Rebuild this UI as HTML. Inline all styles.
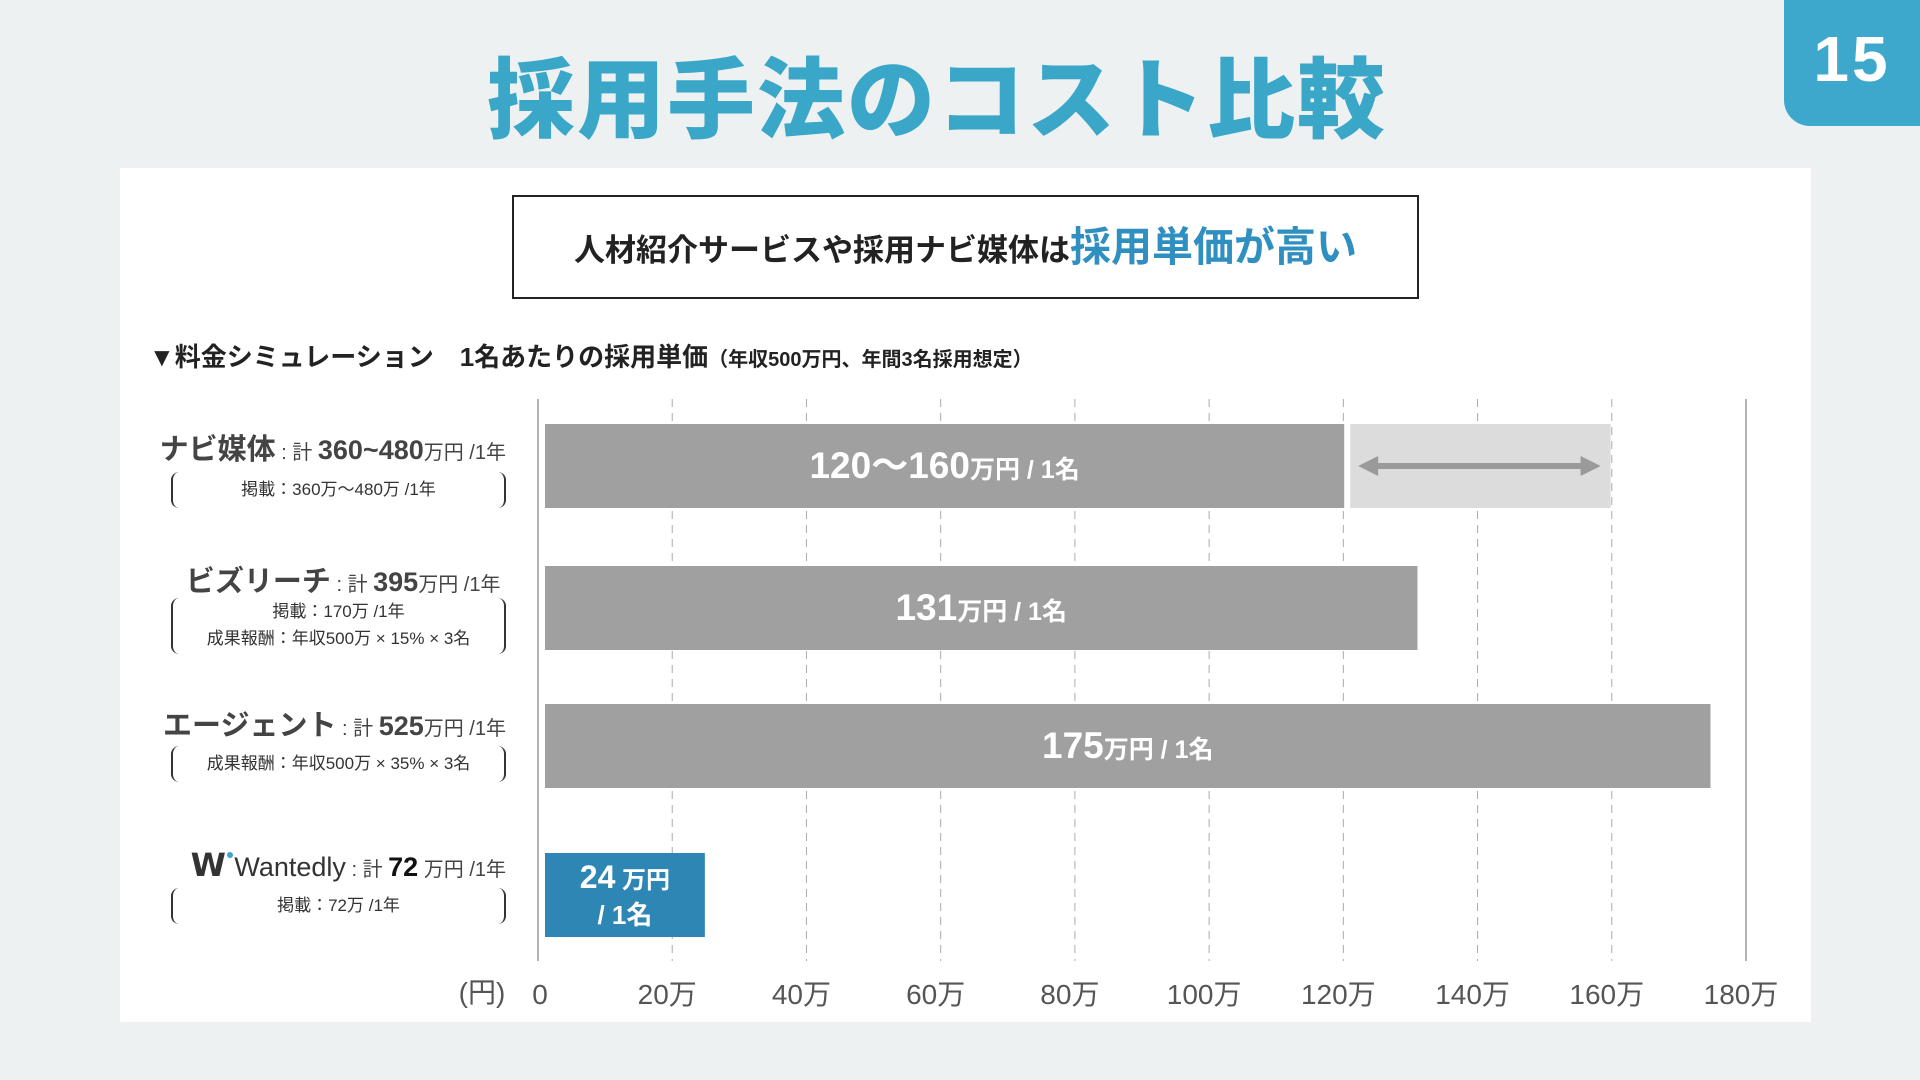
<!DOCTYPE html>
<html><head><meta charset="utf-8"><style>
body{margin:0;width:1920px;height:1080px;background:#edf1f2;position:relative;overflow:hidden;font-family:"Liberation Sans","Noto Sans CJK JP",sans-serif;}
.abs{position:absolute;}
</style></head><body>
<div class="abs" style="left:0;width:1874px;top:30px;text-align:center;font-size:88px;font-weight:900;color:#3aa7c9;letter-spacing:2px;">採用手法のコスト比較</div>
<div class="abs" style="left:1784px;top:0;width:136px;height:126px;background:#3ea8cc;border-radius:0 0 0 26px;color:#fff;font-size:64px;font-weight:900;text-align:center;line-height:118px;letter-spacing:3px;">15</div>
<div class="abs" style="left:120px;top:168px;width:1691px;height:854px;background:#fff;"></div>
<div class="abs" style="left:512px;top:195px;width:903px;height:100px;border:2px solid #222;text-align:center;line-height:100px;font-size:31px;font-weight:bold;color:#222;">人材紹介サービスや採用ナビ媒体は<span style="color:#2e8fc0;font-size:41px;">採用単価が高い</span></div>
<div class="abs" style="left:149px;top:337px;font-size:26px;font-weight:bold;color:#222;white-space:pre;">▼料金シミュレーション　1名あたりの採用単価<span style="font-size:20px;">（年収500万円、年間3名採用想定）</span></div>
<svg class="abs" id="chart" style="left:0;top:0" width="1920" height="1080"></svg>
<script>
const categories=["ナビ媒体","ビズリーチ","エージェント","Wantedly"];
const valuesMin=[120,131,175,24];
const valuesMax=[160,131,175,24];
const barLabels=["120〜160","131","175","24"];
const ticks=[0,20,40,60,80,100,120,140,160,180];
const tickLabels=["0","20万","40万","60万","80万","100万","120万","140万","160万","180万"];
const NS="http://www.w3.org/2000/svg";
const svg=document.getElementById('chart');
const gx=v=>538+v*(1746-538)/180;
const bx=v=>545+v*6.66;
const rowTop=[424,566,704,853],rowH=84;
function el(t,a,p){const e=document.createElementNS(NS,t);for(const k in a)e.setAttribute(k,a[k]);(p||svg).appendChild(e);return e;}
ticks.forEach((t,i)=>{
 const solid=(i===0||i===ticks.length-1);
 const l=el('line',{x1:gx(t),x2:gx(t),y1:399,y2:961,stroke:solid?'#999':'#aaa','stroke-width':solid?1.5:1,'stroke-dasharray':solid?'':'8 6'});
 
 
 const tx=el('text',{x:gx(t)+(i===0?2:-5),y:1004,'text-anchor':'middle','font-size':28,fill:'#555'});
 tx.textContent=tickLabels[i];
 
 
});
const unit=el('text',{x:482,y:1002,'text-anchor':'middle','font-size':28,fill:'#555'});unit.textContent='(円)';


categories.forEach((c,i)=>{
 const y=rowTop[i];const blue=i===3;
 if(valuesMax[i]>valuesMin[i]){
  const r=el('rect',{x:bx(valuesMin[i])+6,y:y,width:bx(valuesMax[i])-bx(valuesMin[i])-6,height:rowH,fill:'#dcdcdc'});
  
  
  const x1=bx(valuesMin[i])+14,x2=bx(valuesMax[i])-10,ym=y+rowH/2;
  el('line',{x1:x1+12,x2:x2-12,y1:ym,y2:ym,stroke:'#9a9a9a','stroke-width':6});
  el('polygon',{points:`${x1},${ym} ${x1+20},${ym-10} ${x1+20},${ym+10}`,fill:'#9a9a9a'});
  el('polygon',{points:`${x2},${ym} ${x2-20},${ym-10} ${x2-20},${ym+10}`,fill:'#9a9a9a'});
 }
 const b=el('rect',{x:545,y:y,width:bx(valuesMin[i])-545,height:rowH,fill:blue?'#2e86b5':'#a0a0a0'});
 
 
 const cx=(545+bx(valuesMin[i]))/2;
 if(blue){
  const t=el('text',{x:cx,y:y+35,'text-anchor':'middle',fill:'#fff','font-weight':'bold','font-size':32});
  t.innerHTML=barLabels[i]+'<tspan font-size="24"> 万円</tspan>';
  
  
  const t2=el('text',{x:cx,y:y+71,'text-anchor':'middle',fill:'#fff','font-weight':'bold','font-size':26});t2.textContent='/ 1名';
 }else{
  const t=el('text',{x:cx,y:y+rowH/2+12,'text-anchor':'middle',fill:'#fff','font-weight':'bold','font-size':37});
  t.innerHTML=barLabels[i]+'<tspan font-size="25">万円  / 1名</tspan>';
  
  
 }
});
</script>
<div style="position:absolute;left:0;top:0;">
<div class="abs" style="left:120px;width:386px;top:426px;text-align:right;font-size:20px;color:#444;white-space:nowrap;"><b style="font-size:29px">ナビ媒体</b> : 計 <b style="font-size:27px">360~480</b>万円 /1年</div>
<div class="abs" style="left:171px;width:331px;top:472px;height:36px;border-left:2px solid #333;border-right:2px solid #333;border-radius:8px;text-align:center;font-size:17px;line-height:36px;color:#333;">掲載：360万〜480万 /1年</div>
<div class="abs" style="left:120px;width:386px;top:558px;text-align:right;font-size:20px;color:#444;white-space:nowrap;"><b style="font-size:29px">ビズリーチ</b> : 計 <b style="font-size:27px">395</b>万円 /1年&nbsp;</div>
<div class="abs" style="left:171px;width:331px;top:598px;height:56px;border-left:2px solid #333;border-right:2px solid #333;border-radius:8px;text-align:center;font-size:17px;line-height:27px;color:#333;">掲載：170万 /1年<br>成果報酬：年収500万 × 15% × 3名</div>
<div class="abs" style="left:120px;width:386px;top:702px;text-align:right;font-size:20px;color:#444;white-space:nowrap;"><b style="font-size:29px">エージェント</b> : 計 <b style="font-size:27px">525</b>万円 /1年</div>
<div class="abs" style="left:171px;width:331px;top:746px;height:36px;border-left:2px solid #333;border-right:2px solid #333;border-radius:8px;text-align:center;font-size:17px;line-height:36px;color:#333;">成果報酬：年収500万 × 35% × 3名</div>
<div class="abs" style="left:120px;width:386px;top:846px;text-align:right;font-size:20px;color:#444;white-space:nowrap;"><b style="font-size:32px;color:#333;font-family:'DejaVu Sans',sans-serif;">W</b><span style="color:#3aa7c9;font-size:14px;vertical-align:top;">●</span><span style="font-size:27px;color:#333;">Wantedly</span> : 計 <b style="font-size:27px;color:#111">72</b> 万円 /1年</div>
<div class="abs" style="left:171px;width:331px;top:888px;height:36px;border-left:2px solid #333;border-right:2px solid #333;border-radius:8px;text-align:center;font-size:17px;line-height:36px;color:#333;">掲載：72万 /1年</div>
</div>
</body></html>
